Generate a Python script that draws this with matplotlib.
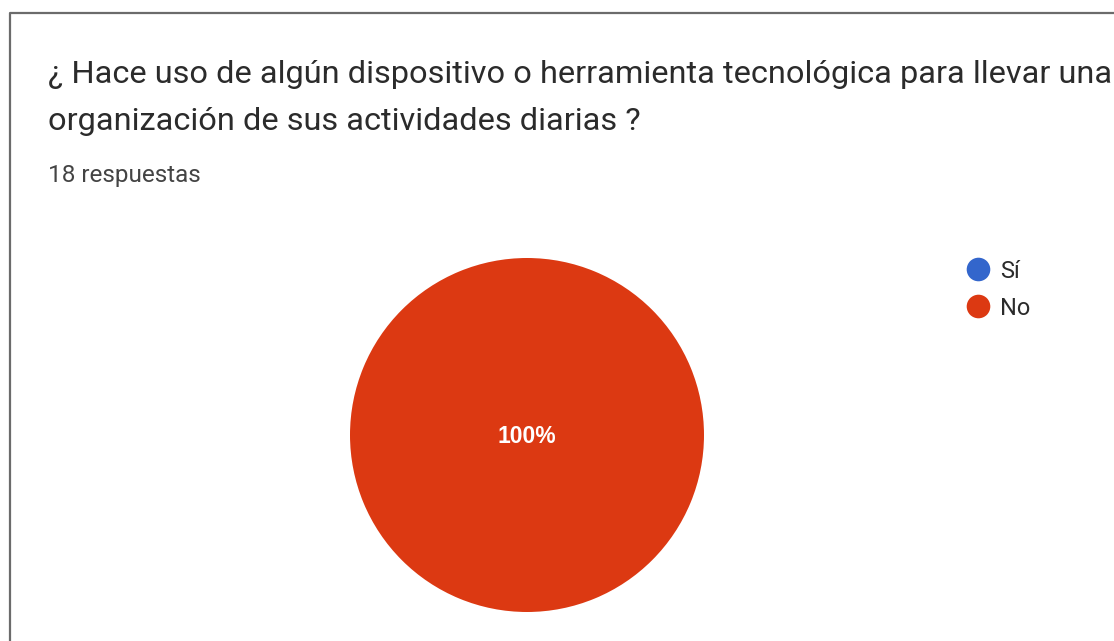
import matplotlib
matplotlib.use("Agg")
import matplotlib.pyplot as plt
from matplotlib.lines import Line2D

# Survey answers
labels = ["Sí", "No"]
counts = [0, 18]
colors = ["#3366cc", "#dc3912"]
title_lines = ["¿ Hace uso de algún dispositivo o herramienta tecnológica para llevar una",
               "organización de sus actividades diarias ?"]
subtitle = "18 respuestas"

W, H = 1114, 641
fig = plt.figure(figsize=(W / 100, H / 100), dpi=100)
fig.patch.set_facecolor("white")

def fx(x):
    return x / W

def fy(y):
    return 1 - y / H

# card frame (top and left edges visible)
fig.add_artist(Line2D([fx(10), fx(10), fx(W + 5)], [fy(H + 5), fy(13), fy(13)],
                      color="#6b6b6b", lw=1.6, transform=fig.transFigure))

font = ["Roboto", "DejaVu Sans"]
fig.text(fx(48), fy(83), title_lines[0], family=font, fontsize=23.4,
         color="#2b2b2b", va="baseline", ha="left")
fig.text(fx(48), fy(130), title_lines[1], family=font, fontsize=23.4,
         color="#2b2b2b", va="baseline", ha="left")
fig.text(fx(48), fy(182), subtitle, family=font, fontsize=17.5,
         color="#444444", va="baseline", ha="left")

# pie
cx, cy, r = 527, 435, 177
ax = fig.add_axes([fx(cx - r), fy(cy + r), 2 * r / W, 2 * r / H])
total = sum(counts)
nz = [(c, col) for c, col in zip(counts, colors) if c > 0]
ax.pie([c for c, _ in nz], colors=[col for _, col in nz], startangle=90,
       counterclock=False, radius=1.0, wedgeprops=dict(linewidth=0))
ax.set_xlim(-1, 1)
ax.set_ylim(-1, 1)
ax.set_aspect("equal")
ax.axis("off")
for c, col in nz:
    ax.text(0, -0.01, f"{round(100 * c / total)}%", ha="center", va="center",
            color="white", fontsize=16.5, family=["Liberation Sans", "DejaVu Sans"],
            fontweight="bold")

# legend
for i, (lab, col) in enumerate(zip(labels, colors)):
    y = 269 + 37 * i
    fig.add_artist(Line2D([fx(978)], [fy(y)], marker="o", markersize=17,
                          markerfacecolor=col, markeredgewidth=0,
                          transform=fig.transFigure))
    fig.text(fx(1000), fy(y), lab, family=font, fontsize=17, color="#2b2b2b",
             va="center_baseline", ha="left")

fig.savefig("out.png", dpi=100, facecolor="white")
